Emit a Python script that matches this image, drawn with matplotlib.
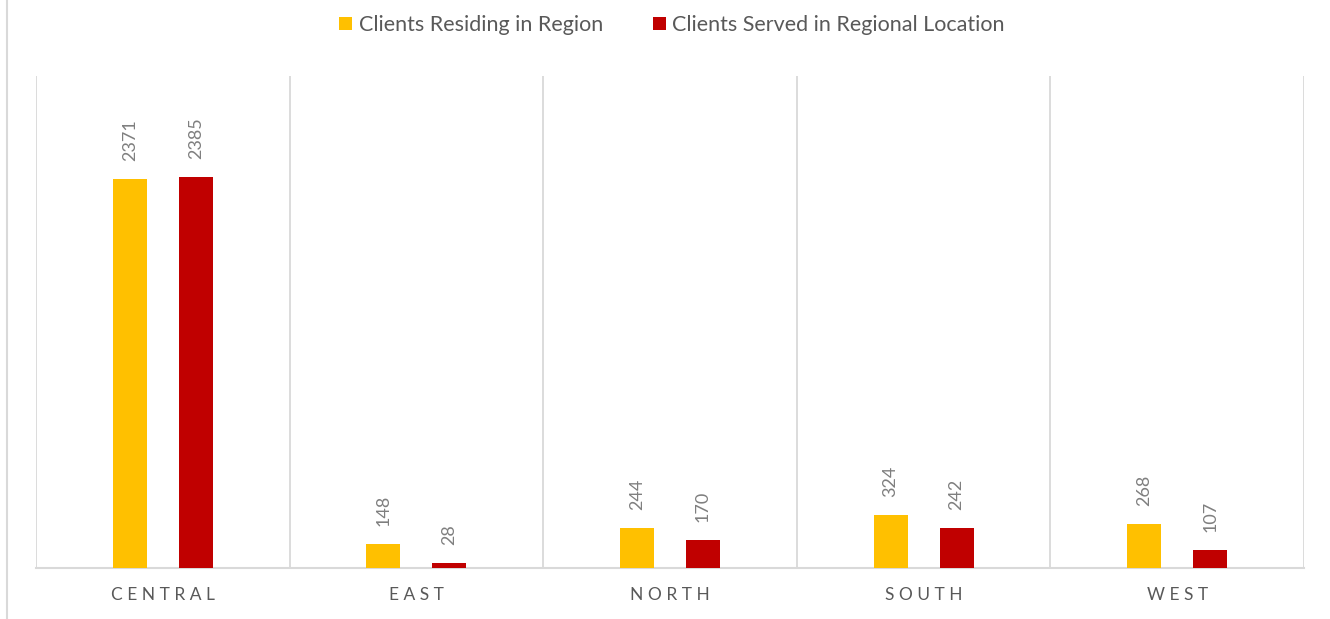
import matplotlib
matplotlib.use("Agg")
import matplotlib.pyplot as plt
from matplotlib.lines import Line2D
import numpy as np

categories = ["CENTRAL", "EAST", "NORTH", "SOUTH", "WEST"]
residing = [2371, 148, 244, 324, 268]
served = [2385, 28, 170, 242, 107]
series_names = ["Clients Residing in Region", "Clients Served in Regional Location"]
colors = ["#FFC000", "#C00000"]

plt.rcParams['font.family'] = ['Lato', 'DejaVu Sans']

fig = plt.figure(figsize=(13.30, 6.19), dpi=100)
ax = fig.add_axes([36/1330, 51/619, 1268/1330, 492/619])

x = np.arange(len(categories))
w = 0.134
off = 0.13
b1 = ax.bar(x - off, residing, w, color=colors[0], label=series_names[0], zorder=3)
b2 = ax.bar(x + off, served, w, color=colors[1], label=series_names[1], zorder=3)

for bars, vals in ((b1, residing), (b2, served)):
    for r, v in zip(bars, vals):
        ax.annotate(str(v), (r.get_x() + r.get_width()/2, r.get_height()),
                    xytext=(0, 13), textcoords="offset points",
                    rotation=90, ha="center", va="bottom",
                    fontsize=13, color="#7f7f7f")

ax.set_xlim(-0.5, len(categories) - 0.5)
ax.set_ylim(0, 3000)
for b in np.arange(-0.5, len(categories), 1.0):
    ax.axvline(b, color="#d9d9d9", lw=1.3, zorder=1)
ax.set_yticks([])
ax.set_xticks(x)
ax.set_xticklabels([" ".join(c) for c in categories], fontsize=12.5, color="#595959")
ax.tick_params(axis="x", length=0, pad=14)
for s in ("top", "right", "left"):
    ax.spines[s].set_visible(False)
ax.spines["bottom"].set_color("#d9d9d9")
ax.spines["bottom"].set_linewidth(1.5)

leg = fig.legend(loc="center", bbox_to_anchor=(672/1330, 1 - 25/619), ncol=2,
                 frameon=False, fontsize=15.5, handlelength=0.6, handleheight=0.6,
                 handletextpad=0.3, columnspacing=2.3, labelcolor="#595959")

fig.add_artist(Line2D([7/1330, 7/1330], [0, 1], transform=fig.transFigure,
                      color="#d9d9d9", lw=1.5))

fig.savefig("out.png", dpi=100, facecolor="white")
